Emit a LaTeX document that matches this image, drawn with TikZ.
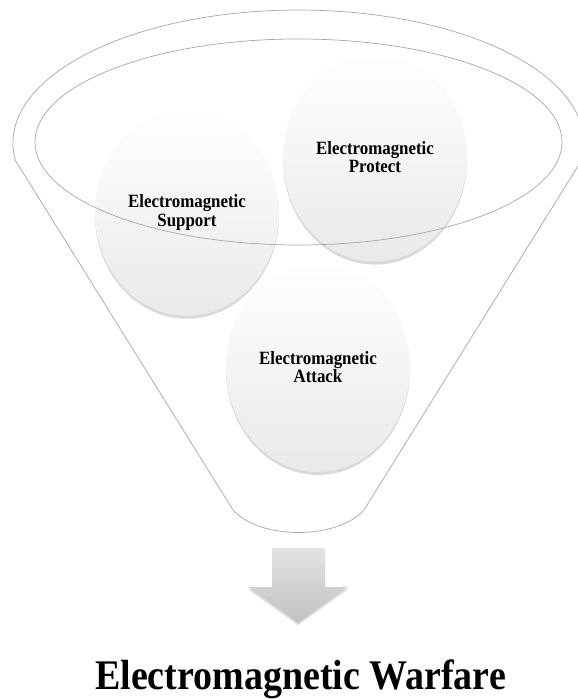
\documentclass[tikz,border=0pt]{standalone}
\usepackage{fontspec}
\setmainfont{Liberation Serif}
\newfontfamily\condfont[FakeStretch=0.9]{Liberation Serif}
\usetikzlibrary{shapes.geometric,shadows}

\begin{document}
\begin{tikzpicture}[x=0.03cm, y=0.03cm,
    rim/.style={draw=gray!70, line width=0.6pt},
    bubble/.style={ellipse, minimum width=5.52cm, minimum height=6.2cm, inner sep=0pt,
        top color=white, middle color=white, bottom color=gray!17,
        drop shadow={opacity=0.3, shadow xshift=0pt, shadow yshift=-2.5pt},
        align=center, font=\condfont\bfseries\fontsize{16}{15.5}\selectfont}]
    \useasboundingbox (0,0) rectangle (577,700);

    % 漏斗外轮廓
    \draw[rim] (15.4,539.6) arc[start angle=187.5, end angle=-7.5, x radius=285.5, y radius=133]
        -- (364,190) .. controls (337,160) and (260,160) .. (233,190) -- cycle;

    % 三个圆
    \node[bubble] (support) at (187,487.5) {Electromagnetic\\Support};
    \node[bubble, minimum height=6.25cm] (protect) at (375,542.5) {Electromagnetic\\Protect};
    \node[bubble, minimum height=6.3cm] (attack) at (318,333) {Electromagnetic\\Attack};

    % 漏斗口内椭圆
    \draw[rim] (298.5,558) ellipse[x radius=263.5, y radius=103];

    % 向下箭头
    \shade[top color=gray!22, bottom color=gray!48,
        drop shadow={opacity=0.25, shadow xshift=0pt, shadow yshift=-2pt}]
        (272,113) -- (272,148) [rounded corners=2pt] -- (272,152) -- (325,152) [sharp corners]
        -- (325,113) -- (348,113) -- (298,77) -- (248,113) -- cycle;

    % 标题
    \node[font=\condfont\bfseries\fontsize{36}{40}\selectfont, anchor=base] (title) at (300.5,10) {Electromagnetic Warfare};
\end{tikzpicture}
\end{document}
